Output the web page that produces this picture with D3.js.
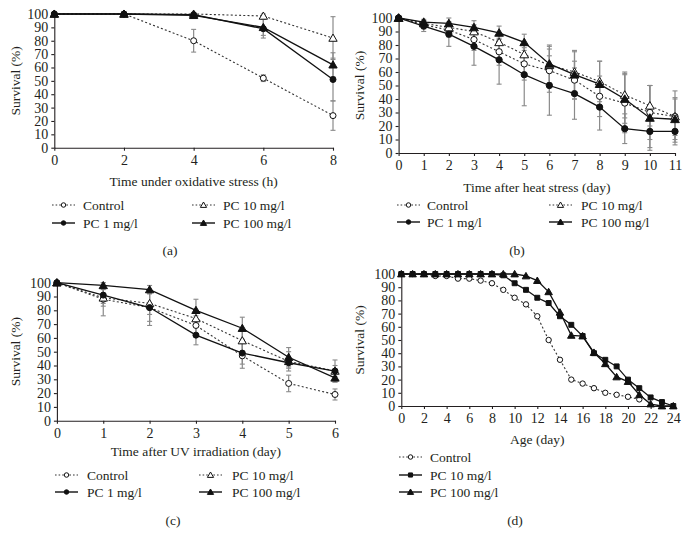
<!DOCTYPE html>
<html><head><meta charset="utf-8">
<script src="https://cdn.jsdelivr.net/npm/d3@7"></script>
<style>
body{margin:0;background:#fff}
svg{display:block}
text{font-family:'Liberation Serif','Times New Roman',serif;fill:#231f20}
</style>
</head><body><svg id="c" width="688" height="544"></svg>
<script>
// ---------- DATA ----------
const yTicks = [0,10,20,30,40,50,60,70,80,90,100];

// (a) oxidative stress
const aTime = [0,2,4,6,8];
const aXTicks = [0,2,4,6,8];
const aControl = [100,100,80,52,24];
const aControlErr = [0,0,8.5,2.5,11];
const aPC1 = [100,100,99.5,89,51];
const aPC1Err = [0,0,1,7,16];
const aPC10 = [100,100,100,98.5,82];
const aPC10Err = [0,0,0.5,1.5,16];
const aPC100 = [100,100,99,90,62];
const aPC100Err = [0,0,1,6,9];

// (b) heat stress
const bTime = [0,1,2,3,4,5,6,7,8,9,10,11];
const bXTicks = [0,1,2,3,4,5,6,7,8,9,10,11];
const bControl = [100,95,91,84,75,66,61,54,42,37,30,27];
const bControlErr = [0,3,5,8,10,12,16,14,15,22,20,14];
const bPC1 = [100,94,88,79,69,58,50,44,34,18,16,16];
const bPC1Err = [0,4,9,14,18,23,22,19,17,11,12,10];
const bPC10 = [100,96,93,90,82,73,65,60,53,43,35,27];
const bPC10Err = [0,2,4,5,6,8,14,15,15,17,15,19];
const bPC100 = [100,97,96,93,89,82,66,58,51,40,26,25];
const bPC100Err = [0,2,4,5,5,6,14,18,17,18,24,15];

// (c) UV irradiation
const cTime = [0,1,2,3,4,5,6];
const cXTicks = [0,1,2,3,4,5,6];
const cControl = [100,88,82,69,47,27,19];
const cControlErr = [0,12,13,7,9,6,4];
const cPC1 = [100,91,82,62,49,42,36];
const cPC1Err = [0,6,10,7,8,4,4];
const cPC10 = [100,89,85,74,58,43,36];
const cPC10Err = [0,6,8,6,8,7,8];
const cPC100 = [100,98,95,80,67,46,31];
const cPC100Err = [0,2,3,8,8,7,3];

// (d) lifespan
const dAgeControl = [0,1,2,3,4,5,6,7,8,9,10,11,12,13,14,15,16,17,18,19,20,21];
const dControl = [100,100,100,98.5,98.5,96.5,96.5,95,93,88,82,77,68,50,35,20,17,13.5,10,8.5,7,5];
const dAge = [0,1,2,3,4,5,6,7,8,9,10,11,12,13,14,15,16,17,18,19,20,21,22,23,24];
const dPC10 = [100,100,100,100,100,100,100,100,100,99,93,88,82,78,68,61.5,53,40,35,30,20,13.5,6.5,3,0];
const dPC100 = [100,100,100,100,100,100,100,100,100,100,100,98.5,95,86.5,71,53.5,53,40.5,32,22,18.5,8.5,1.5,0,0];
const dXTicks = [0,2,4,6,8,10,12,14,16,18,20,22,24];

const names = ["Control","PC 1 mg/l","PC 10 mg/l","PC 100 mg/l"];

// ---------- STYLES ----------
const ST = {
  ctrl:  {dash:"2,2.2", shape:"circle", fill:false},
  pc1:   {dash:null,   shape:"circle", fill:true},
  pc10:  {dash:"2,2.2", shape:"triangle", fill:false},
  pc100: {dash:null,   shape:"triangle", fill:true},
  pc10sq:{dash:null,   shape:"square", fill:true}
};

const svg = d3.select("#c");

function marker(g, shape, fill, cx, cy, scale){
  scale = scale||1;
  let el;
  if(shape==="circle"){
    el = g.append("circle").attr("cx",cx).attr("cy",cy).attr("r",3*scale);
  } else {
    const sym = shape==="triangle"?d3.symbolTriangle:d3.symbolSquare;
    const size = 30*scale*scale;
    el = g.append("path").attr("d",d3.symbol().type(sym).size(size)())
      .attr("transform",`translate(${cx},${cy + (shape==="triangle"?0.8*scale:0)})`);
  }
  el.attr("fill",fill?"#111":"#fff").attr("stroke","#111").attr("stroke-width",1);
}

function panel(cfg){
  const g = svg.append("g");
  const x = d3.scaleLinear().domain(cfg.xDomain).range([cfg.left,cfg.right]);
  const y = d3.scaleLinear().domain([0,100]).range([cfg.bottom,cfg.top]);
  const fmt = d3.format("d");

  // axes
  const xa = g.append("g").attr("transform",`translate(0,${cfg.bottom})`)
    .call(d3.axisBottom(x).tickValues(cfg.xTicks).tickFormat(fmt).tickSize(3).tickSizeOuter(0).tickPadding(4));
  const ya = g.append("g").attr("transform",`translate(${cfg.left},0)`)
    .call(d3.axisLeft(y).tickValues(yTicks).tickFormat(fmt).tickSize(3).tickSizeOuter(0).tickPadding(3));
  [xa,ya].forEach(a=>{
    a.attr("font-family",null);
    a.selectAll("path,line").attr("stroke","#231f20").attr("stroke-width",1.1);
    a.selectAll("text").style("font-size","14px").attr("fill","#231f20");
  });

  // error bars
  const eg = g.append("g");
  cfg.series.forEach(s=>{
    if(!s.err) return;
    s.x.forEach((xv,i)=>{
      const e = s.err[i]; if(!e) return;
      const px = x(xv), ya0 = y(s.y[i]-e), ya1 = y(Math.min(s.y[i]+e,110));
      eg.append("line").attr("x1",px).attr("x2",px).attr("y1",ya0).attr("y2",ya1)
        .attr("stroke","#8a8a8a").attr("stroke-width",1.2);
      [ya0,ya1].forEach(yy=>eg.append("line").attr("x1",px-2.5).attr("x2",px+2.5)
        .attr("y1",yy).attr("y2",yy).attr("stroke","#8a8a8a").attr("stroke-width",1.1));
    });
  });

  // lines
  const line = d3.line().x(d=>x(d[0])).y(d=>y(d[1]));
  cfg.series.forEach(s=>{
    const pts = s.x.map((v,i)=>[v,s.y[i]]);
    g.append("path").attr("d",line(pts)).attr("fill","none")
      .attr("stroke",s.st.dash?"#333":"#111").attr("stroke-width",s.st.dash?1.1:1.3)
      .attr("stroke-dasharray",s.st.dash);
  });
  // markers
  cfg.series.forEach(s=>{
    s.x.forEach((v,i)=>marker(g,s.st.shape,s.st.fill,x(v),y(s.y[i]),cfg.mscale));
  });

  // axis labels
  g.append("text").attr("x",(cfg.left+cfg.right)/2).attr("y",cfg.xLabelY)
    .attr("text-anchor","middle").style("font-size","13.5px").text(cfg.xLabel);
  g.append("text").attr("transform",`translate(${cfg.yLabelX},${(cfg.top+cfg.bottom)/2}) rotate(-90)`)
    .attr("text-anchor","middle").attr("dominant-baseline","central").style("font-size","13.5px").text("Survival (%)");

  // legend
  cfg.legend.forEach(it=>{
    const lg = g.append("g");
    lg.append("line").attr("x1",it.x).attr("x2",it.x+23).attr("y1",it.y).attr("y2",it.y)
      .attr("stroke",it.st.dash?"#333":"#111").attr("stroke-width",it.st.dash?1.1:1.4)
      .attr("stroke-dasharray",it.st.dash?"1.6,2":null);
    marker(lg,it.st.shape,it.st.fill,it.x+11.5,it.y,0.75);
    lg.append("text").attr("x",it.tx).attr("y",it.y).attr("dominant-baseline","central")
      .style("font-size","13.5px").text(it.label);
  });

  g.append("text").attr("x",cfg.capX).attr("y",cfg.capY).attr("text-anchor","middle")
    .attr("dominant-baseline","central").style("font-size","13.5px").text(cfg.caption);
}

function leg4(c1x,c1t,c2x,c2t,r1,r2){
  return [
    {x:c1x,tx:c1t,y:r1,st:ST.ctrl,label:names[0]},
    {x:c1x,tx:c1t,y:r2,st:ST.pc1,label:names[1]},
    {x:c2x,tx:c2t,y:r1,st:ST.pc10,label:names[2]},
    {x:c2x,tx:c2t,y:r2,st:ST.pc100,label:names[3]}
  ];
}

panel({
  left:54.3,right:333,bottom:147.7,top:14,xDomain:[0,8],xTicks:aXTicks,
  xLabel:"Time under oxidative stress (h)",xLabelY:186,yLabelX:15,mscale:1,
  series:[
    {x:aTime,y:aControl,err:aControlErr,st:ST.ctrl},
    {x:aTime,y:aPC10,err:aPC10Err,st:ST.pc10},
    {x:aTime,y:aPC1,err:aPC1Err,st:ST.pc1},
    {x:aTime,y:aPC100,err:aPC100Err,st:ST.pc100}],
  legend:leg4(52,83,192,223,205,223),capX:170,capY:250,caption:"(a)"
});

panel({
  left:398.6,right:675,bottom:153,top:18,xDomain:[0,11],xTicks:bXTicks,
  xLabel:"Time after heat stress (day)",xLabelY:192,yLabelX:359,mscale:1.05,
  series:[
    {x:bTime,y:bControl,err:bControlErr,st:ST.ctrl},
    {x:bTime,y:bPC10,err:bPC10Err,st:ST.pc10},
    {x:bTime,y:bPC1,err:bPC1Err,st:ST.pc1},
    {x:bTime,y:bPC100,err:bPC100Err,st:ST.pc100}],
  legend:leg4(397,427,549,581,205,222),capX:517,capY:250,caption:"(b)"
});

panel({
  left:56.9,right:335,bottom:420.7,top:282.7,xDomain:[0,6],xTicks:cXTicks,
  xLabel:"Time after UV irradiation (day)",xLabelY:456,yLabelX:15,mscale:1,
  series:[
    {x:cTime,y:cControl,err:cControlErr,st:ST.ctrl},
    {x:cTime,y:cPC10,err:cPC10Err,st:ST.pc10},
    {x:cTime,y:cPC1,err:cPC1Err,st:ST.pc1},
    {x:cTime,y:cPC100,err:cPC100Err,st:ST.pc100}],
  legend:leg4(55,87,199,232,475,492),capX:173,capY:520,caption:"(c)"
});

panel({
  left:401.3,right:673.3,bottom:406,top:274,xDomain:[0,24],xTicks:dXTicks,
  xLabel:"Age (day)",xLabelY:444,yLabelX:359,mscale:0.9,
  series:[
    {x:dAgeControl,y:dControl,st:ST.ctrl},
    {x:dAge,y:dPC10,st:ST.pc10sq},
    {x:dAge,y:dPC100,st:ST.pc100}],
  legend:[
    {x:399,tx:430,y:457,st:ST.ctrl,label:names[0]},
    {x:399,tx:430,y:475,st:ST.pc10sq,label:names[2]},
    {x:399,tx:430,y:492,st:ST.pc100,label:names[3]}],
  capX:515,capY:520,caption:"(d)"
});
</script>
</body></html>
